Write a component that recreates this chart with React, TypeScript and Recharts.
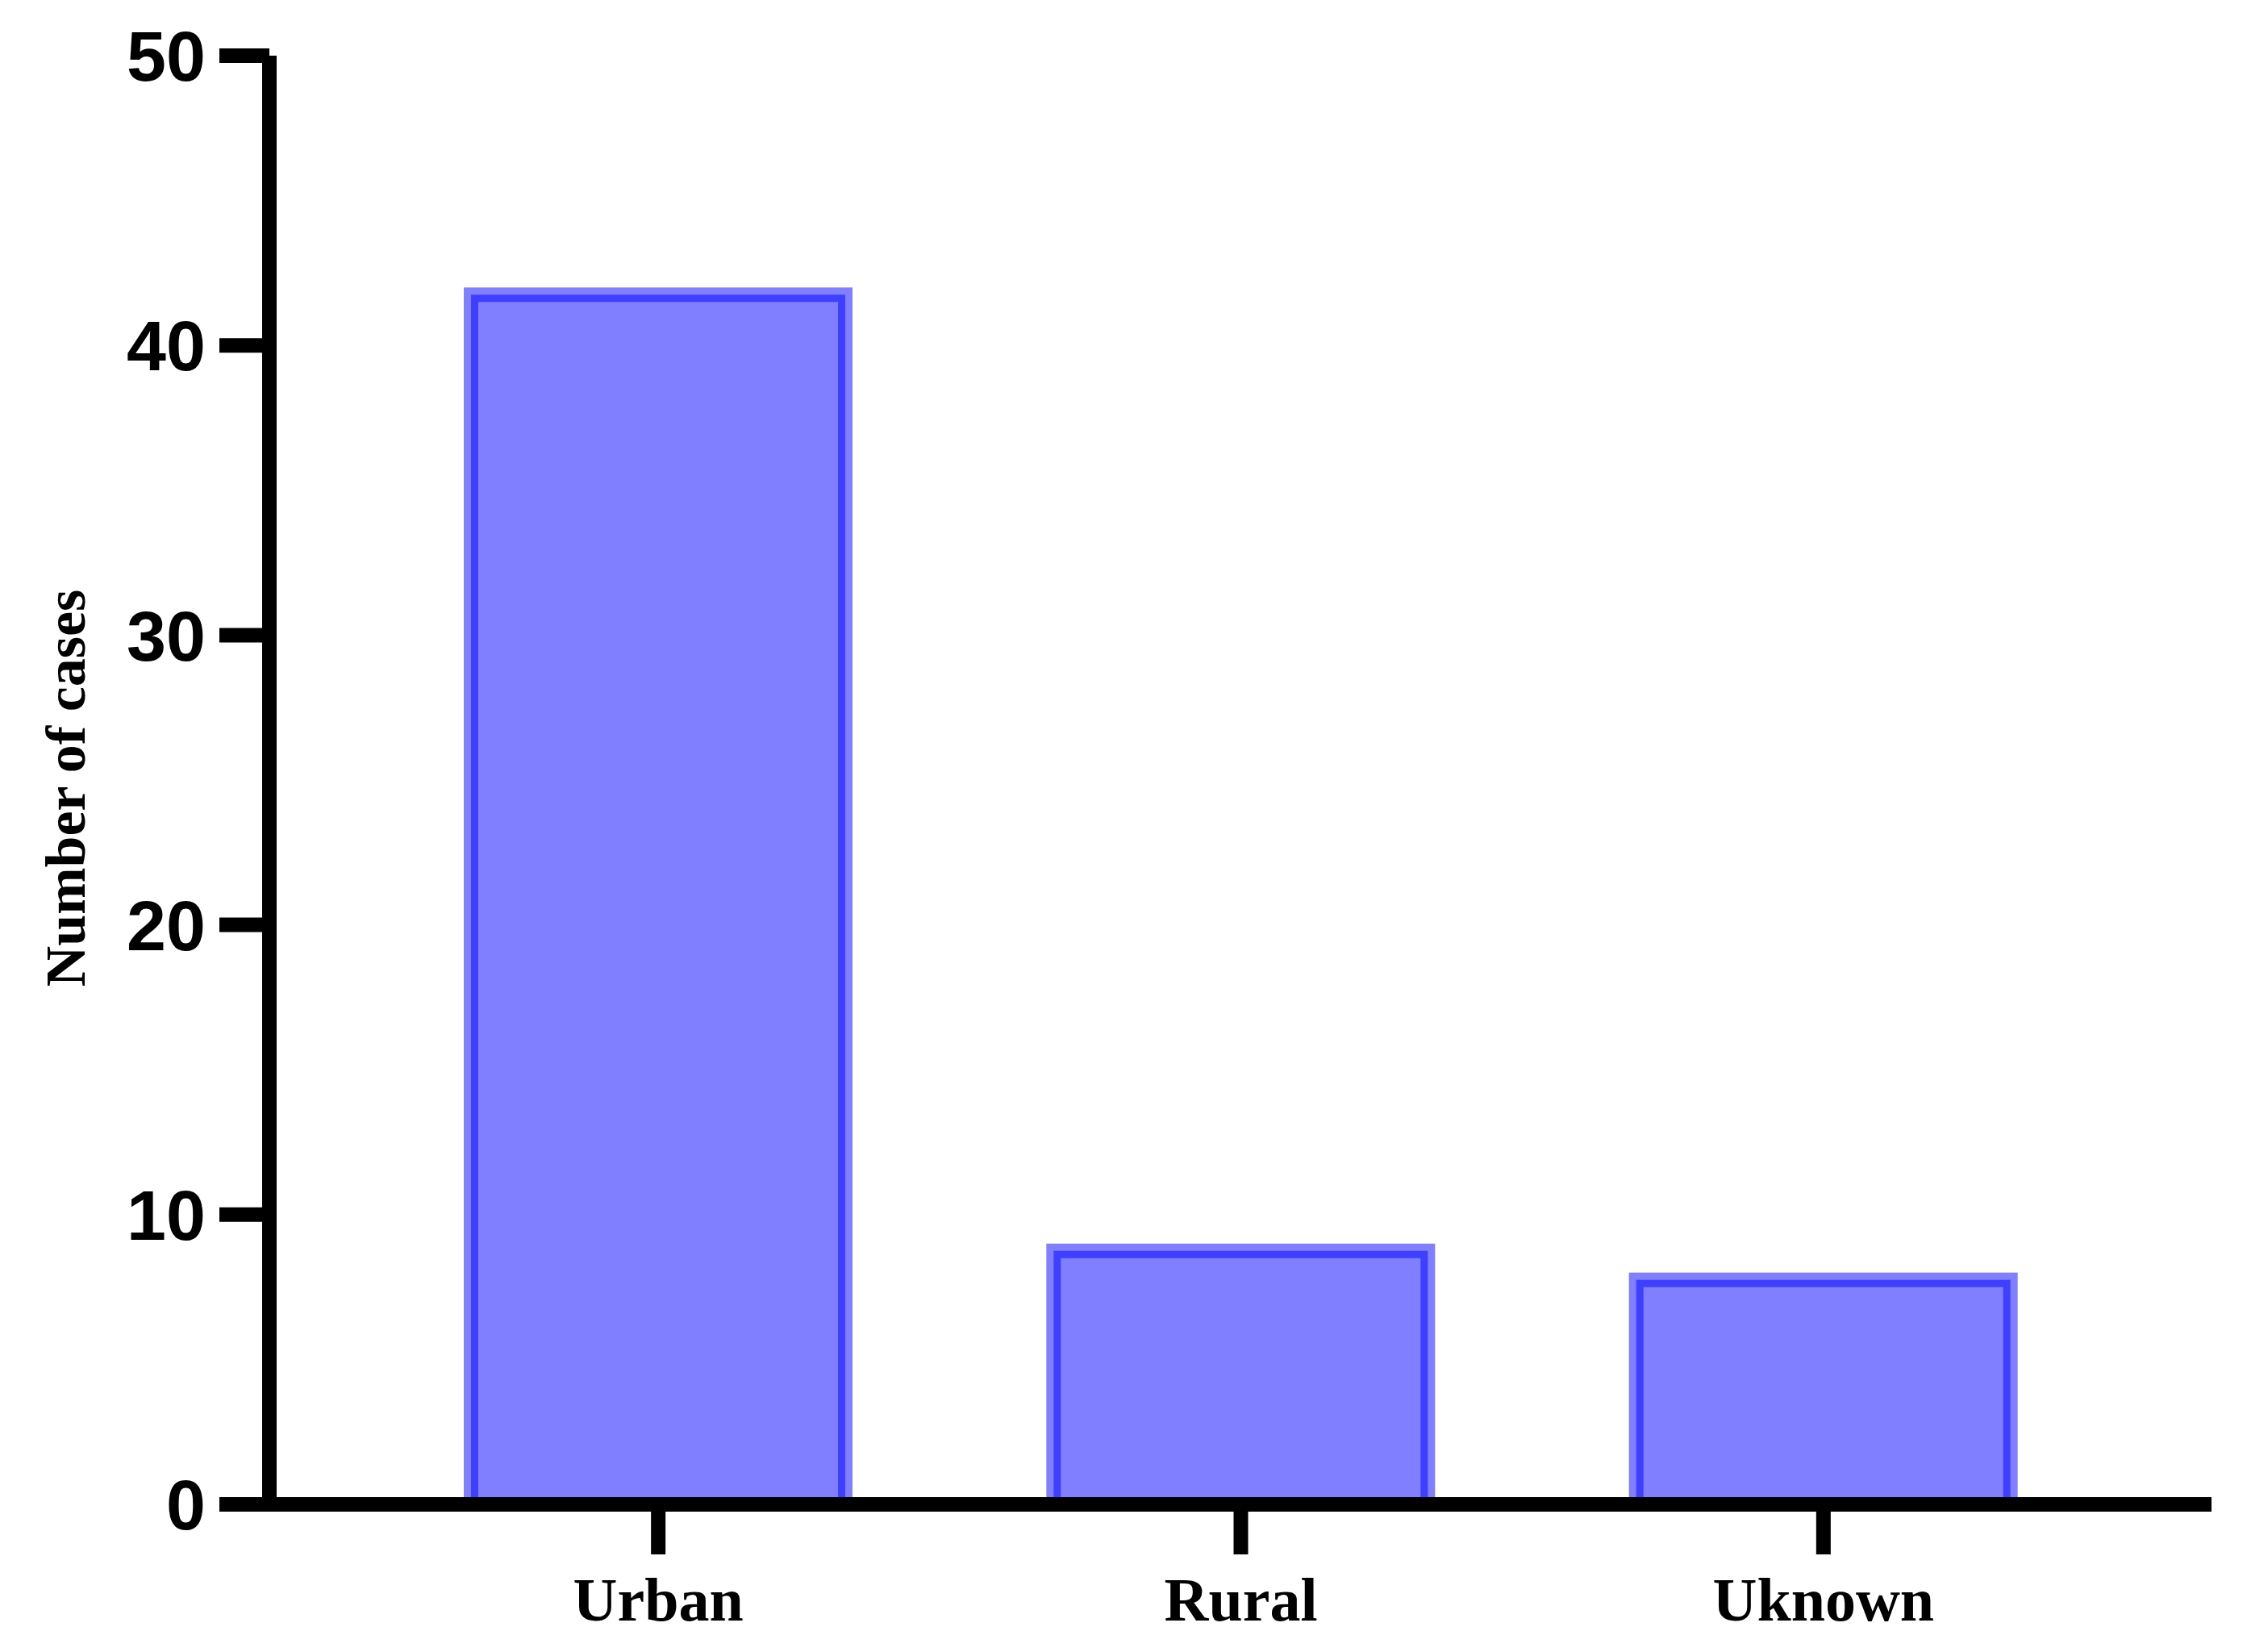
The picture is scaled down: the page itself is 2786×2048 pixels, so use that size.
import React from 'react';
import { BarChart, Bar, XAxis, YAxis } from 'recharts';

const categories = ['Urban', 'Rural', 'Uknown'];
const cases = [42, 9, 8];
const yTicks = [0, 10, 20, 30, 40, 50];

const data = categories.map((name, i) => ({ name, cases: cases[i] }));

const BAR_STROKE = 18;

// Prism-style bar: the outer edge of the stroke sits on the value, not the stroke centre
function InsetBar(props: any) {
  const { x, y, width, height } = props;
  const h = BAR_STROKE / 2;
  return (
    <rect
      x={x + h}
      y={y + h}
      width={width - BAR_STROKE}
      height={height - h}
      fill="rgba(0,0,255,0.5)"
      stroke="rgba(0,0,255,0.5)"
      strokeWidth={BAR_STROKE}
    />
  );
}

function YTitle(props: any) {
  const vb = props.viewBox || { y: 0, height: 0 };
  const cy = vb.y + vb.height / 2 + 10;
  return (
    <text
      x={105}
      y={cy}
      transform={`rotate(-90, 105, ${cy})`}
      textAnchor="middle"
      fontFamily="'Liberation Serif', 'Times New Roman', serif"
      fontWeight="bold"
      fontSize={70}
      fill="#000"
    >
      Number of cases
    </text>
  );
}

export default function App() {
  return (
    <div style={{ position: 'absolute', left: 0, top: 0, width: 2786, height: 2048, background: '#fff' }}>
      <BarChart
        width={2786}
        height={2048}
        data={data}
        margin={{ top: 69, right: 44, left: 0, bottom: 0 }}
      >
        <XAxis
          dataKey="name"
          height={183}
          padding={{ left: 121, right: 120 }}
          axisLine={{ stroke: '#000', strokeWidth: 18 }}
          tickLine={{ stroke: '#000', strokeWidth: 18 }}
          tickSize={62}
          tickMargin={28}
          tick={{
            fill: '#000',
            fontSize: 76,
            fontWeight: 'bold',
            fontFamily: "'Liberation Serif', 'Times New Roman', serif",
          }}
        />
        <YAxis
          width={334}
          domain={[0, 50]}
          ticks={yTicks}
          interval={0}
          axisLine={{ stroke: '#000', strokeWidth: 18 }}
          tickLine={{ stroke: '#000', strokeWidth: 18 }}
          tickSize={62}
          tickMargin={17}
          tick={{
            fill: '#000',
            fontSize: 88,
            fontWeight: 'bold',
            fontFamily: "'Liberation Sans', Arial, sans-serif",
          }}
          label={<YTitle />}
        />
        <Bar dataKey="cases" barSize={482} shape={<InsetBar />} isAnimationActive={false} />
      </BarChart>
    </div>
  );
}
